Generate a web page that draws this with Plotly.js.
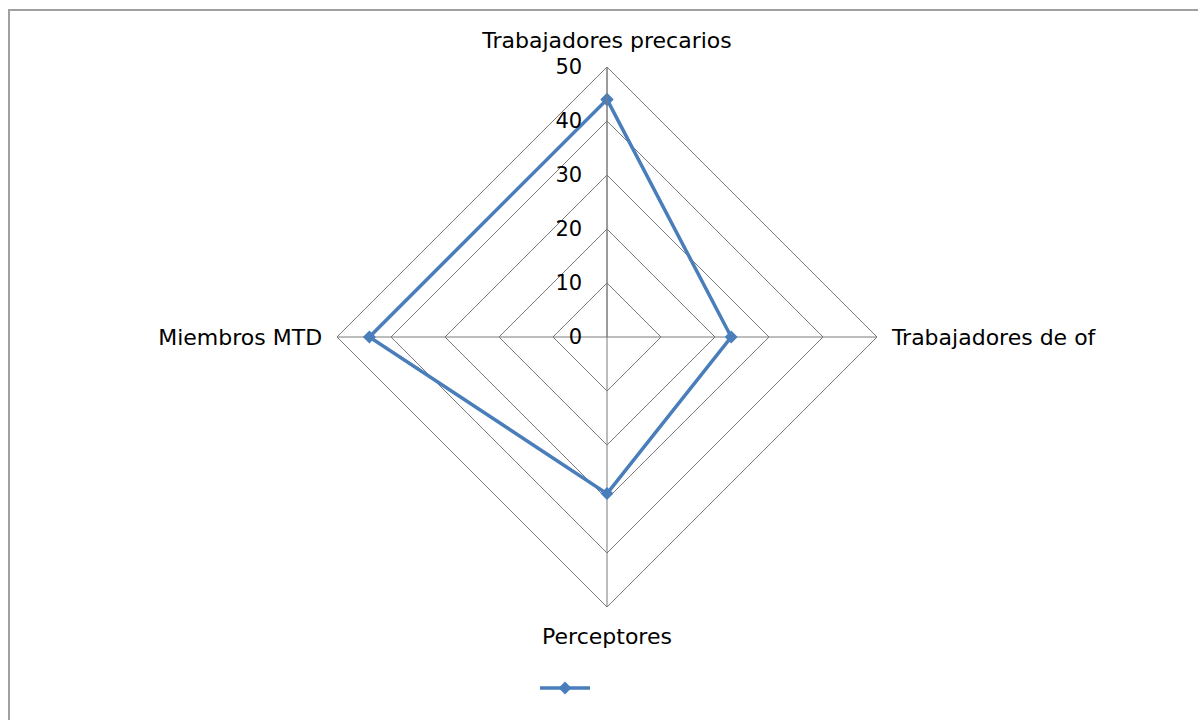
<!DOCTYPE html>
<html>
<head>
<meta charset="utf-8">
<script src="https://cdn.plot.ly/plotly-3.0.1.min.js"></script>
<style>html,body{margin:0;padding:0;background:#fff;}#chart{width:1198px;height:720px;}</style>
</head>
<body>
<div id="chart"></div>
<script>
const categories = ["Trabajadores precarios", "Trabajadores de of", "Perceptores", "Miembros MTD"];
const values = [44, 23, 29, 44];
const radialTicks = [0, 10, 20, 30, 40, 50];
const seriesName = "";

const W = 1198, H = 720;
const cx = 607, cy = 337, R = 270;

const trace = {
  type: "scatterpolar",
  r: values.concat([values[0]]),
  theta: categories.concat([categories[0]]),
  mode: "lines+markers",
  name: seriesName,
  line: {color: "#4a7ebb", width: 3.5},
  marker: {symbol: "diamond", size: 10, color: "#4a7ebb"},
  showlegend: true
};

const layout = {
  width: W, height: H,
  margin: {l: 0, r: 0, t: 0, b: 0},
  paper_bgcolor: "#fff",
  font: {family: "DejaVu Sans", size: 22, color: "#000"},
  showlegend: true,
  legend: {
    orientation: "h",
    x: 535 / W, xanchor: "left",
    y: 1 - 688 / H, yanchor: "middle",
    font: {size: 16},
    itemwidth: 50
  },
  polar: {
    domain: {x: [(cx - R) / W, (cx + R) / W], y: [(H - cy - R) / H, (H - cy + R) / H]},
    gridshape: "linear",
    bgcolor: "rgba(0,0,0,0)",
    angularaxis: {
      type: "category",
      categoryarray: categories,
      rotation: 90,
      direction: "clockwise",
      showline: true,
      linecolor: "#7a7a7a",
      linewidth: 1,
      gridcolor: "#7a7a7a",
      gridwidth: 1,
      ticks: "outside",
      ticklen: 10,
      tickcolor: "rgba(0,0,0,0)",
      tickfont: {size: 22}
    },
    radialaxis: {
      range: [0, 50],
      tickvals: radialTicks,
      ticktext: radialTicks.map(String),
      angle: 90,
      side: "counterclockwise",
      tickangle: 90,
      showline: true,
      linecolor: "#7a7a7a",
      linewidth: 1,
      gridcolor: "#7a7a7a",
      gridwidth: 1,
      ticks: "outside",
      ticklen: 17,
      tickcolor: "rgba(0,0,0,0)",
      tickfont: {size: 21}
    }
  },
  shapes: [
    {type: "line", xref: "paper", yref: "paper", x0: 9 / W, x1: 9 / W, y0: 1 - 9 / H, y1: 0, line: {color: "#a0a0a0", width: 2}},
    {type: "line", xref: "paper", yref: "paper", x0: 8 / W, x1: 1, y0: 1 - 10 / H, y1: 1 - 10 / H, line: {color: "#a0a0a0", width: 2}}
  ]
};

Plotly.newPlot("chart", [trace], layout, {displayModeBar: false, staticPlot: true});
</script>
</body>
</html>
